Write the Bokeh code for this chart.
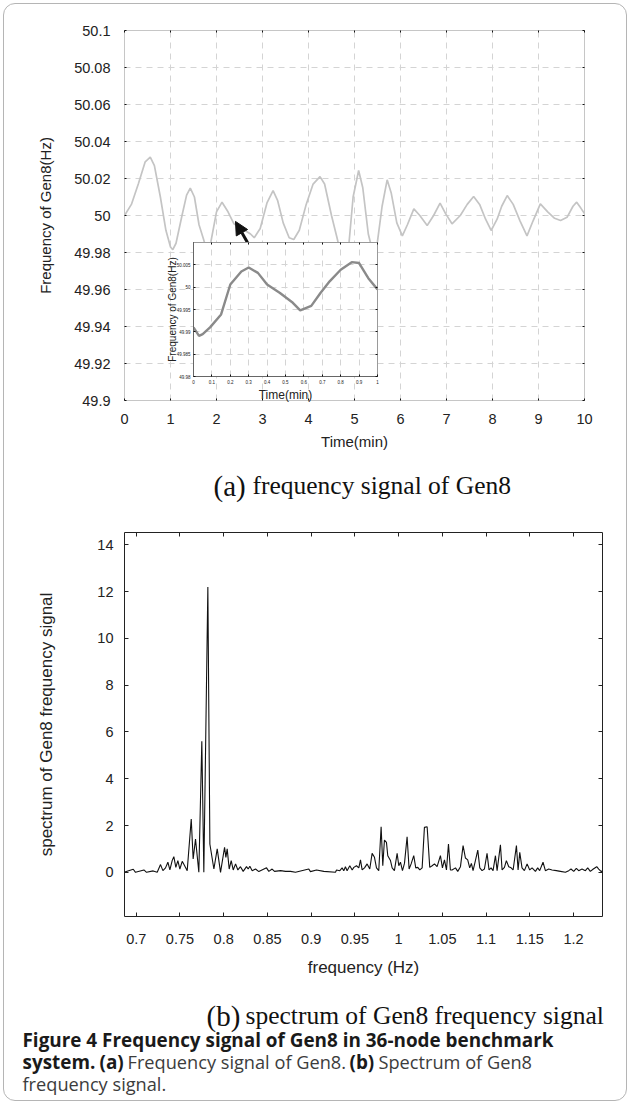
from bokeh.plotting import figure
from bokeh.models import (Range1d, FixedTicker, CustomJSTickFormatter, LinearAxis,
                          Arrow, NormalHead, Div)
from bokeh.core.properties import value
from bokeh.embed import file_html
from bokeh.resources import INLINE

# ---------------- data ----------------
gen8_time = [0.00, 0.15, 0.30, 0.45, 0.56, 0.65, 0.78, 0.90, 1.00, 1.05,
             1.12, 1.25, 1.35, 1.43, 1.52, 1.62, 1.72, 1.80, 1.88, 2.00,
             2.12, 2.25, 2.38, 2.55, 2.74, 2.82, 2.95, 3.10, 3.23, 3.33,
             3.45, 3.58, 3.68, 3.80, 3.95, 4.10, 4.25, 4.35, 4.50, 4.62,
             4.75, 4.88, 4.97, 5.09, 5.18, 5.30, 5.42, 5.50, 5.60, 5.71,
             5.80, 5.92, 6.04, 6.15, 6.29, 6.42, 6.58, 6.72, 6.86, 6.98,
             7.12, 7.30, 7.45, 7.59, 7.72, 7.85, 7.97, 8.10, 8.20, 8.32,
             8.45, 8.60, 8.75, 8.88, 9.04, 9.20, 9.35, 9.48, 9.62, 9.75,
             9.83, 9.92, 10.0]
gen8_freq = [50.000, 50.006, 50.017, 50.029, 50.0315, 50.027, 50.010, 49.992, 49.983, 49.9815,
             49.985, 50.000, 50.011, 50.0148, 50.010, 49.995, 49.987, 49.980, 49.986, 50.002,
             50.0072, 50.002, 49.9955, 49.993, 49.990, 49.988, 49.993, 50.007, 50.0135, 50.008,
             49.996, 49.988, 49.987, 49.992, 50.006, 50.017, 50.021, 50.017, 50.000, 49.988,
             49.974, 49.985, 50.010, 50.0243, 50.015, 49.990, 49.978, 49.986, 50.005, 50.0193,
             50.012, 49.996, 49.989, 49.995, 50.0036, 50.000, 49.9946, 50.000, 50.0067, 50.001,
             49.9955, 50.000, 50.006, 50.0103, 50.006, 49.998, 49.9919, 49.998, 50.005, 50.0108,
             50.006, 49.997, 49.989, 49.997, 50.0063, 50.002, 49.9985, 49.9973, 49.999, 50.005,
             50.0072, 50.004, 50.001]

inset_time = [0.0, 0.03, 0.05, 0.09, 0.15, 0.20, 0.26, 0.30, 0.35, 0.40, 0.47,
              0.54, 0.58, 0.64, 0.69, 0.74, 0.80, 0.86, 0.90, 0.95, 1.0]
inset_freq = [49.991, 49.9891, 49.9895, 49.991, 49.9939, 50.0006, 50.0035, 50.0044,
              50.0032, 50.0006, 49.9987, 49.9965, 49.9948, 49.9958, 49.9987, 50.0013,
              50.0039, 50.0056, 50.0054, 50.002, 49.9995]

spec_freq = [0.6866, 0.6878, 0.6966, 0.6992, 0.7088, 0.7118, 0.7194, 0.7240, 0.7278, 0.7305,
             0.7335, 0.7362, 0.7385, 0.7411, 0.7430, 0.7453, 0.7476, 0.7499, 0.7526, 0.7552,
             0.7583, 0.7629, 0.7651, 0.7678, 0.7716, 0.7750, 0.7773, 0.7819, 0.7842, 0.7888,
             0.7926, 0.7964, 0.8010, 0.8025, 0.8040, 0.8063, 0.8086, 0.8109, 0.8136, 0.8162,
             0.8192, 0.8223, 0.8261, 0.8280, 0.8299, 0.8326, 0.8364, 0.8402, 0.8490, 0.8516,
             0.8554, 0.8581, 0.8650, 0.8707, 0.8764, 0.8821, 0.8973, 0.8992, 0.9061, 0.9145,
             0.9278, 0.9290, 0.9328, 0.9354, 0.9373, 0.9392, 0.9411, 0.9442, 0.9469, 0.9488,
             0.9518, 0.9545, 0.9564, 0.9583, 0.9610, 0.9640, 0.9670, 0.9697, 0.9724, 0.9747,
             0.9773, 0.9800, 0.9819, 0.9838, 0.9861, 0.9876, 0.9907, 0.9926, 0.9952, 0.9983,
             1.0002, 1.0021, 1.0044, 1.0067, 1.0097, 1.0120, 1.0143, 1.0173, 1.0196, 1.0219,
             1.0242, 1.0269, 1.0295, 1.0326, 1.0356, 1.0383, 1.0410, 1.0440, 1.0478, 1.0501,
             1.0524, 1.0547, 1.0570, 1.0592, 1.0611, 1.0650, 1.0676, 1.0707, 1.0737, 1.0764,
             1.0790, 1.0813, 1.0832, 1.0851, 1.0878, 1.0905, 1.0928, 1.0954, 1.0981, 1.1011,
             1.1034, 1.1057, 1.1080, 1.1107, 1.1126, 1.1164, 1.1183, 1.1210, 1.1232, 1.1259,
             1.1286, 1.1309, 1.1347, 1.1366, 1.1385, 1.1411, 1.1438, 1.1469, 1.1499, 1.1526,
             1.1564, 1.1590, 1.1613, 1.1651, 1.1678, 1.1716, 1.1754, 1.1804, 1.1850, 1.1907,
             1.1945, 1.1971, 1.2002, 1.2032, 1.2059, 1.2097, 1.2135, 1.2162, 1.2192, 1.2226,
             1.2265, 1.2288, 1.2314, 1.2331]
spec_amp = [0.00, 0.02, 0.13, 0.00, 0.10, 0.00, 0.06, 0.00, 0.33, 0.07,
            0.19, 0.43, 0.10, 0.50, 0.67, 0.21, 0.50, 0.14, 0.47, 0.29,
            0.07, 2.28, 0.57, 1.42, 0.00, 5.60, 0.00, 12.2, 1.21, 0.14,
            1.00, 0.00, 1.07, 0.64, 1.00, 0.14, 0.50, 0.10, 0.36, 0.10,
            0.24, 0.04, 0.24, 0.14, 0.26, 0.07, 0.14, 0.03, 0.19, 0.04,
            0.14, 0.04, 0.07, 0.04, 0.04, 0.00, 0.14, 0.03, 0.10, 0.04,
            0.00, 0.10, 0.07, 0.19, 0.07, 0.24, 0.07, 0.28, 0.10, 0.21,
            0.28, 0.19, 0.53, 0.10, 0.19, 0.36, 0.14, 0.81, 0.64, 0.19,
            0.07, 1.95, 0.28, 1.38, 1.28, 0.71, 0.50, 0.19, 0.07, 0.81,
            0.28, 0.43, 0.07, 0.38, 1.52, 0.14, 0.36, 0.71, 0.19, 0.21,
            0.10, 0.19, 1.92, 1.95, 0.21, 0.28, 0.36, 0.24, 0.71, 0.19,
            0.53, 0.10, 1.21, 0.10, 0.10, 0.19, 0.04, 0.24, 1.14, 0.61,
            0.53, 0.19, 0.38, 0.07, 0.50, 0.95, 0.19, 0.07, 0.14, 0.81,
            0.10, 0.19, 0.07, 0.71, 0.07, 1.18, 0.10, 0.21, 0.50, 0.24,
            0.19, 0.10, 1.14, 0.10, 0.85, 0.19, 0.07, 0.36, 0.10, 0.19,
            0.04, 0.19, 0.07, 0.43, 0.07, 0.14, 0.10, 0.07, 0.04, 0.00,
            0.07, 0.14, 0.04, 0.17, 0.07, 0.14, 0.07, 0.19, 0.04, 0.14,
            0.24, 0.14, 0.04, 0.05]

top_x_ticks = [0, 1, 2, 3, 4, 5, 6, 7, 8, 9, 10]
top_y_ticks = [49.9, 49.92, 49.94, 49.96, 49.98, 50.0, 50.02, 50.04, 50.06, 50.08, 50.1]
inset_x_ticks = [0, 0.1, 0.2, 0.3, 0.4, 0.5, 0.6, 0.7, 0.8, 0.9, 1.0]
inset_y_ticks = [49.98, 49.985, 49.99, 49.995, 50.0, 50.005]
spec_x_ticks = [0.7, 0.75, 0.8, 0.85, 0.9, 0.95, 1.0, 1.05, 1.1, 1.15, 1.2]
spec_y_ticks = [0, 2, 4, 6, 8, 10, 12, 14]

title_a = ["(a)", "frequency signal of Gen8"]
title_b = ["(b)", "spectrum of Gen8 frequency signal"]
caption_bold = ["Figure 4 Frequency signal of Gen8 in 36-node benchmark", "system.", "(a)", "(b)"]
caption_plain = ["Frequency signal of Gen8.", "Spectrum of Gen8", "frequency signal."]

# ---------------- helpers ----------------
SANS = "Liberation Sans"
SERIF = "Liberation Serif"
CAP = "Open Sans"


def num_fmt():
    return CustomJSTickFormatter(code="return Number(tick.toFixed(3)).toString();")


def blank_fmt():
    return CustomJSTickFormatter(code="return '';")


def place(left, top):
    return {"position": "absolute", "left": f"{left}px", "top": f"{top}px", "margin": "0"}


def style_axis(ax, ticks, fmt, size, tick_len, tick_color, standoff, line_color=None):
    ax.ticker = FixedTicker(ticks=ticks)
    ax.formatter = fmt
    ax.major_tick_in = tick_len
    ax.major_tick_out = 0
    ax.minor_tick_line_color = None
    ax.major_tick_line_color = tick_color
    ax.axis_line_color = line_color
    ax.major_label_text_font = SANS
    ax.major_label_text_font_size = size
    ax.major_label_text_color = "#222222"
    ax.major_label_standoff = standoff
    ax.axis_label_text_font = SANS
    ax.axis_label_text_font_style = "normal"
    ax.axis_label_text_color = "#222222"


def mirror(p, ticks_x, ticks_y, tick_len, tick_color, line_color=None):
    top = LinearAxis()
    right = LinearAxis()
    style_axis(top, ticks_x, blank_fmt(), "1px", tick_len, tick_color, 0, line_color)
    style_axis(right, ticks_y, blank_fmt(), "1px", tick_len, tick_color, 0, line_color)
    p.add_layout(top, "above")
    p.add_layout(right, "right")


W = 625

# ---------------- (a) main time plot ----------------
p1 = figure(frame_width=460, frame_height=370, x_range=Range1d(0, 10),
            y_range=Range1d(49.9, 50.1), output_backend="svg", toolbar_location=None,
            min_border_left=124, min_border_right=41, min_border_top=30, min_border_bottom=55,
            styles=place(0, 0))
p1.outline_line_color = "#c6c6c6"
p1.background_fill_color = "white"
p1.border_fill_color = None
style_axis(p1.xaxis[0], top_x_ticks, num_fmt(), "14.5px", 2, "#111111", 13)
style_axis(p1.yaxis[0], top_y_ticks, num_fmt(), "14.5px", 2, "#111111", 14)
p1.xaxis.axis_label = "Time(min)"
p1.yaxis.axis_label = "Frequency of Gen8(Hz)"
p1.xaxis.axis_label_text_font_size = "15px"
p1.yaxis.axis_label_text_font_size = "15px"
p1.xaxis.axis_label_standoff = 6
p1.yaxis.axis_label_standoff = 17
mirror(p1, top_x_ticks, top_y_ticks, 2, "#111111")
p1.grid.grid_line_color = "#d4d4d4"
p1.grid.grid_line_dash = "6 5"
p1.line(gen8_time, gen8_freq, line_color="#c4c4c4", line_width=1.7)
p1.add_layout(Arrow(end=NormalHead(size=13, fill_color="#111111", line_color="#111111"),
                    x_start=2.674, y_start=49.9854, x_end=2.413, y_end=49.9968,
                    line_width=3, line_color="#111111"))

# ---------------- inset ----------------
p_in = figure(frame_width=184, frame_height=134, x_range=Range1d(0, 1),
              y_range=Range1d(49.98, 50.01), output_backend="svg", toolbar_location=None,
              min_border_left=40, min_border_right=2, min_border_top=4, min_border_bottom=30,
              styles=place(153, 238))
p_in.border_fill_color = None
p_in.background_fill_color = "white"
p_in.outline_line_color = "#9a9a9a"
style_axis(p_in.xaxis[0], inset_x_ticks, num_fmt(), "4.5px", 2, "#111111", 3, "#666666")
style_axis(p_in.yaxis[0], inset_y_ticks, num_fmt(), "4.5px", 2, "#111111", 3, "#666666")
p_in.xaxis.axis_label = "Time(min)"
p_in.yaxis.axis_label = "Frequency of Gen8(Hz)"
p_in.xaxis.axis_label_text_font_size = "12px"
p_in.yaxis.axis_label_text_font_size = "10px"
p_in.xaxis.axis_label_standoff = 1
p_in.yaxis.axis_label_standoff = -4
mirror(p_in, inset_x_ticks, inset_y_ticks, 2, "#111111")
p_in.grid.grid_line_color = "#d4d4d4"
p_in.grid.grid_line_dash = "6 5"
p_in.line(inset_time, inset_freq, line_color="#8a8a8a", line_width=2.4)

# ---------------- text figures ----------------


def text_fig(h, top):
    t = figure(width=W, height=h, x_range=Range1d(0, W), y_range=Range1d(h, 0),
               output_backend="svg", toolbar_location=None, min_border=0,
               x_axis_type=None, y_axis_type=None, styles=place(0, top))
    t.outline_line_color = None
    t.background_fill_color = None
    t.border_fill_color = None
    return t


pa = text_fig(50, 455)
pa.text(x=[213], y=[30], text=[title_a[0]], text_font=value(SERIF),
        text_font_size=value("29px"), text_color="#111111", text_baseline="alphabetic")
pa.text(x=[252], y=[30], text=[title_a[1]], text_font=value(SERIF),
        text_font_size=value("25.5px"), text_color="#111111", text_baseline="alphabetic")

# ---------------- (b) spectrum ----------------
p2 = figure(frame_width=478, frame_height=384, x_range=Range1d(0.6866, 1.2331),
            y_range=Range1d(-1.89, 14.53), output_backend="svg", toolbar_location=None,
            min_border_left=124, min_border_right=23, min_border_top=27, min_border_bottom=69,
            styles=place(0, 505))
p2.outline_line_color = "#222222"
p2.border_fill_color = None
p2.grid.visible = False
style_axis(p2.xaxis[0], spec_x_ticks, num_fmt(), "14.5px", 4, "#222222", 17)
style_axis(p2.yaxis[0], spec_y_ticks, num_fmt(), "14.5px", 4, "#222222", 11)
p2.xaxis.axis_label = "frequency (Hz)"
p2.yaxis.axis_label = "spectrum of Gen8 frequency signal"
p2.xaxis.axis_label_text_font_size = "17px"
p2.yaxis.axis_label_text_font_size = "17px"
p2.xaxis.axis_label_standoff = 11
p2.yaxis.axis_label_standoff = 38
mirror(p2, spec_x_ticks, spec_y_ticks, 4, "#222222")
p2.line(spec_freq, spec_amp, line_color="#111111", line_width=1.1)

pb = text_fig(116, 985)
pb.text(x=[206], y=[30], text=[title_b[0]], text_font=value(SERIF),
        text_font_size=value("29px"), text_color="#111111", text_baseline="alphabetic")
pb.text(x=[245], y=[30], text=[title_b[1]], text_font=value(SERIF),
        text_font_size=value("25.5px"), text_color="#111111", text_baseline="alphabetic")
pb.text(x=[22, 22, 99, 349], y=[54, 76, 76, 76], text=caption_bold, text_font=value(CAP),
        text_font_style="bold", text_font_size=value("18.9px"), text_color="#1a1a1a",
        text_baseline="alphabetic")
pb.text(x=[127, 378, 22], y=[76, 76, 98], text=caption_plain, text_font=value(CAP),
        text_font_size=value("18.2px"), text_color="#3c3c3c", text_baseline="alphabetic")

border = Div(text="", width=624, height=1098,
             styles={"position": "absolute", "left": "3px", "top": "3px",
                     "border": "1px solid #b5b5b5", "border-radius": "12px",
                     "pointer-events": "none", "margin": "0"})

open("out.html", "w").write(file_html([p1, pa, p2, pb, p_in, border], INLINE))
